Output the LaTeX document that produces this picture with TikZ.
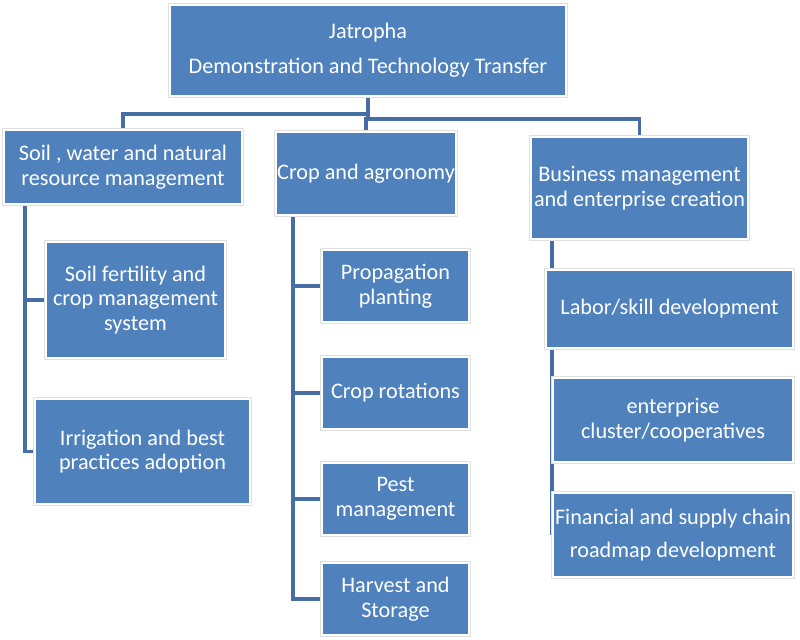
\documentclass[tikz,border=0pt]{standalone}
\usepackage{fontspec}
\setmainfont{Carlito}
\usetikzlibrary{backgrounds}
\definecolor{boxblue}{RGB}{79,129,189}
\definecolor{linkblue}{RGB}{70,110,165}
\begin{document}
\begin{tikzpicture}[x=0.025cm, y=-0.025cm,
    box/.style={fill=boxblue, draw=white, line width=1.4pt, preaction={draw=black!12, line width=2.4pt},
        text=white, align=center, inner sep=0pt, font=\fontsize{15.8}{17.5}\selectfont},
    link/.style={draw=linkblue, line width=2.2pt}
]
\useasboundingbox (0,0) rectangle (800,639);
\node[box, minimum width=9.9cm, minimum height=2.275cm] (top) at (368,50.5) {Jatropha\\[7.3pt]Demonstration and Technology Transfer};
\node[box, minimum width=5.95cm, minimum height=1.85cm] (soil) at (123,167) {Soil , water and natural\\resource management};
\node[box, minimum width=4.5cm, minimum height=2.075cm] (crop) at (366,173.5) {Crop and agronomy};
\node[box, minimum width=5.425cm, minimum height=2.55cm] (biz) at (639.5,188) {Business management\\and enterprise creation};
% soil branch
\node[box, minimum width=4.475cm, minimum height=2.9cm] (fert) at (135.5,300) {Soil fertility and\\crop management\\system};
\node[box, minimum width=5.375cm, minimum height=2.625cm] (irr) at (142.5,451.5) {Irrigation and best\\practices adoption};
% crop branch
\node[box, minimum width=3.675cm, minimum height=1.8cm] (prop) at (395.5,286) {Propagation\\planting};
\node[box, minimum width=3.675cm, minimum height=1.8cm] (rot) at (395.5,393) {Crop rotations};
\node[box, minimum width=3.675cm, minimum height=1.8cm] (pest) at (395.5,499) {Pest\\management};
\node[box, minimum width=3.675cm, minimum height=1.8cm] (harv) at (395.5,599) {Harvest and\\Storage};
% business branch
\node[box, minimum width=6.175cm, minimum height=1.95cm] (labor) at (669.5,309) {Labor/skill development};
\node[box, minimum width=6.0cm, minimum height=2.1cm] (ent) at (673,420) {enterprise\\cluster/cooperatives};
\node[box, minimum width=6.0cm, minimum height=2.1cm] (fin) at (673,535) {Financial and supply chain\\[6.5pt]roadmap development};

\coordinate (soilbus) at (25,204);
\coordinate (cropbus) at (293,215);
\coordinate (bizbus) at (552,239);

\begin{scope}[on background layer]
\draw[link] (top.south) -- ++(0,17) -| (soil.north);
\draw[link] (top.south) -- ++(0,22) -| (biz.north);
\draw[link] (top.south) -- ++(0,22) -| (crop.north);
\draw[link] (soilbus) |- (fert.west);
\draw[link] (soilbus) |- (irr.west);
\draw[link] (cropbus) |- (prop.west);
\draw[link] (cropbus) |- (rot.west);
\draw[link] (cropbus) |- (pest.west);
\draw[link] (cropbus) |- (harv.west);
\draw[link] (bizbus) |- (labor.west);
\draw[link] (bizbus) |- (ent.west);
\draw[link] (bizbus) |- (fin.west);
\end{scope}
\end{tikzpicture}
\end{document}
